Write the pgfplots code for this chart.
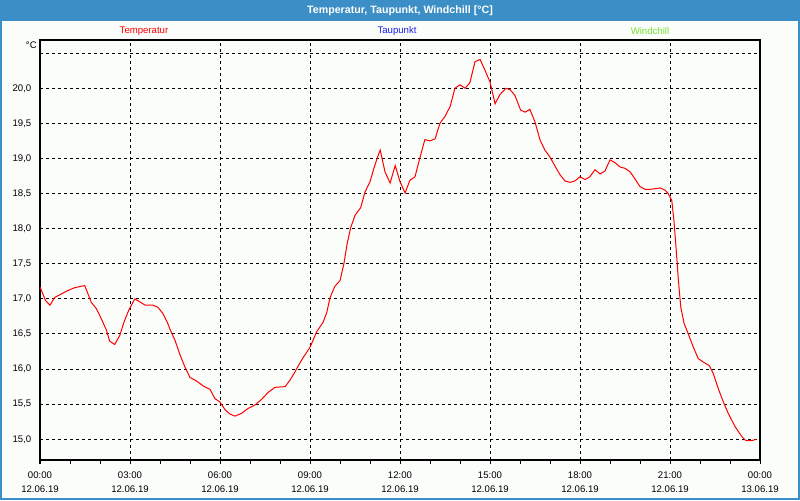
\documentclass[border=0pt]{standalone}
\usepackage{pgfplots}
\pgfplotsset{compat=1.18}
\usepackage{fontspec}
\setmainfont{Liberation Sans}
\definecolor{titleblue}{RGB}{60,143,198}
\definecolor{bgc}{RGB}{251,253,251}
\definecolor{tpblue}{RGB}{30,30,235}
\definecolor{wcgreen}{RGB}{120,225,50}
\pgfplotstableread{
h t
0.00 17.17
0.18 16.98
0.33 16.91
0.49 17.02
0.71 17.07
0.93 17.12
1.16 17.16
1.38 17.18
1.49 17.19
1.60 17.07
1.71 16.95
1.88 16.86
2.04 16.72
2.21 16.56
2.32 16.40
2.49 16.35
2.66 16.48
2.80 16.67
2.96 16.84
3.16 17.00
3.32 16.96
3.51 16.91
3.77 16.91
3.93 16.88
4.10 16.79
4.25 16.66
4.33 16.57
4.50 16.41
4.67 16.20
4.83 16.03
5.00 15.88
5.22 15.83
5.44 15.76
5.67 15.71
5.83 15.58
6.00 15.53
6.17 15.42
6.33 15.36
6.50 15.33
6.72 15.37
6.94 15.44
7.17 15.49
7.39 15.57
7.61 15.67
7.83 15.74
8.17 15.75
8.33 15.84
8.50 15.96
8.60 16.04
8.78 16.17
9.00 16.31
9.22 16.53
9.44 16.67
9.56 16.81
9.67 17.02
9.83 17.18
10.00 17.26
10.13 17.50
10.24 17.79
10.36 18.02
10.50 18.19
10.69 18.30
10.83 18.52
11.00 18.67
11.13 18.86
11.26 19.03
11.34 19.12
11.50 18.81
11.67 18.65
11.84 18.90
12.00 18.67
12.17 18.51
12.33 18.69
12.50 18.74
12.67 19.02
12.83 19.27
13.00 19.25
13.17 19.28
13.33 19.50
13.50 19.60
13.67 19.74
13.83 20.00
14.00 20.05
14.17 20.00
14.33 20.08
14.50 20.38
14.67 20.41
14.83 20.26
15.00 20.09
15.17 19.78
15.33 19.91
15.53 20.00
15.67 19.98
15.83 19.90
16.02 19.69
16.17 19.66
16.33 19.70
16.50 19.52
16.67 19.26
16.83 19.12
17.00 19.02
17.17 18.89
17.33 18.77
17.50 18.68
17.67 18.66
17.83 18.68
18.00 18.74
18.17 18.70
18.33 18.74
18.50 18.84
18.67 18.78
18.83 18.82
19.00 18.98
19.17 18.94
19.33 18.88
19.50 18.86
19.67 18.81
19.83 18.71
20.00 18.60
20.17 18.56
20.33 18.56
20.50 18.57
20.67 18.58
20.83 18.55
20.94 18.50
21.06 18.40
21.13 18.12
21.20 17.74
21.28 17.26
21.36 16.88
21.47 16.65
21.61 16.50
21.78 16.31
21.94 16.15
22.11 16.10
22.31 16.05
22.44 15.94
22.61 15.72
22.78 15.53
22.94 15.37
23.17 15.18
23.39 15.04
23.53 14.98
23.72 14.98
23.87 15.00
}\temps
\begin{document}
\begin{tikzpicture}[x=0.75pt,y=0.75pt]
\useasboundingbox (0,0) rectangle (800,500);
\fill[bgc] (0,0) rectangle (800,500);
\fill[titleblue] (0,479) rectangle (800,500);
\draw[titleblue, line width=1.5pt] (1,1) rectangle (799,499);
\node[white, font=\fontsize{8}{9.6}\selectfont\bfseries] at (400,489.5) {Temperatur, Taupunkt, Windchill [°C]};
\node[red, font=\fontsize{7.2}{8.6}\selectfont] at (144,469) {Temperatur};
\node[tpblue, font=\fontsize{7.2}{8.6}\selectfont] at (397,469) {Taupunkt};
\node[wcgreen, font=\fontsize{7.2}{8.6}\selectfont] at (650,469) {Windchill};
\node[black, anchor=east, font=\fontsize{7.2}{8.6}\selectfont, inner sep=0pt] at (37,455) {°C};
\begin{axis}[
  at={(30pt,30pt)}, anchor=south west,
  scale only axis, width=540pt, height=315pt,
  xmin=0, xmax=24, ymin=14.705, ymax=20.688,
  axis line style={black, line width=1pt},
  xtick={0,3,6,9,12,15,18,21,24},
  minor xtick={1,2,4,5,7,8,10,11,13,14,16,17,19,20,22,23},
  xticklabels={{00:00\\12.06.19},{03:00\\12.06.19},{06:00\\12.06.19},{09:00\\12.06.19},{12:00\\12.06.19},{15:00\\12.06.19},{18:00\\12.06.19},{21:00\\12.06.19},{00:00\\13.06.19}},
  ytick={15,15.5,16,16.5,17,17.5,18,18.5,19,19.5,20},
  extra y ticks={20.5},
  extra y tick labels={},
  extra y tick style={grid=major, ytick style={draw=none}},
  xtick pos=bottom, ytick pos=left,
  tick align=outside,
  major tick length=3pt, minor tick length=3pt,
  xtick style={black, line width=0.75pt},
  ytick style={draw=none},
  xmajorgrids, ymajorgrids,
  major grid style={black, line width=0.75pt, dash pattern=on 2.25pt off 2.25pt},
  /pgf/number format/assume math mode=true,
  yticklabel style={font=\fontsize{7.2}{8.6}\selectfont, /pgf/number format/fixed, /pgf/number format/fixed zerofill, /pgf/number format/precision=1, /pgf/number format/use comma},
  xticklabel style={font=\fontsize{7.2}{10.7}\selectfont, align=center, yshift=-2pt},
]
\addplot[red, line width=0.75pt, sharp plot, no marks] table[x=h, y=t] {\temps};
\end{axis}
\end{tikzpicture}
\end{document}
